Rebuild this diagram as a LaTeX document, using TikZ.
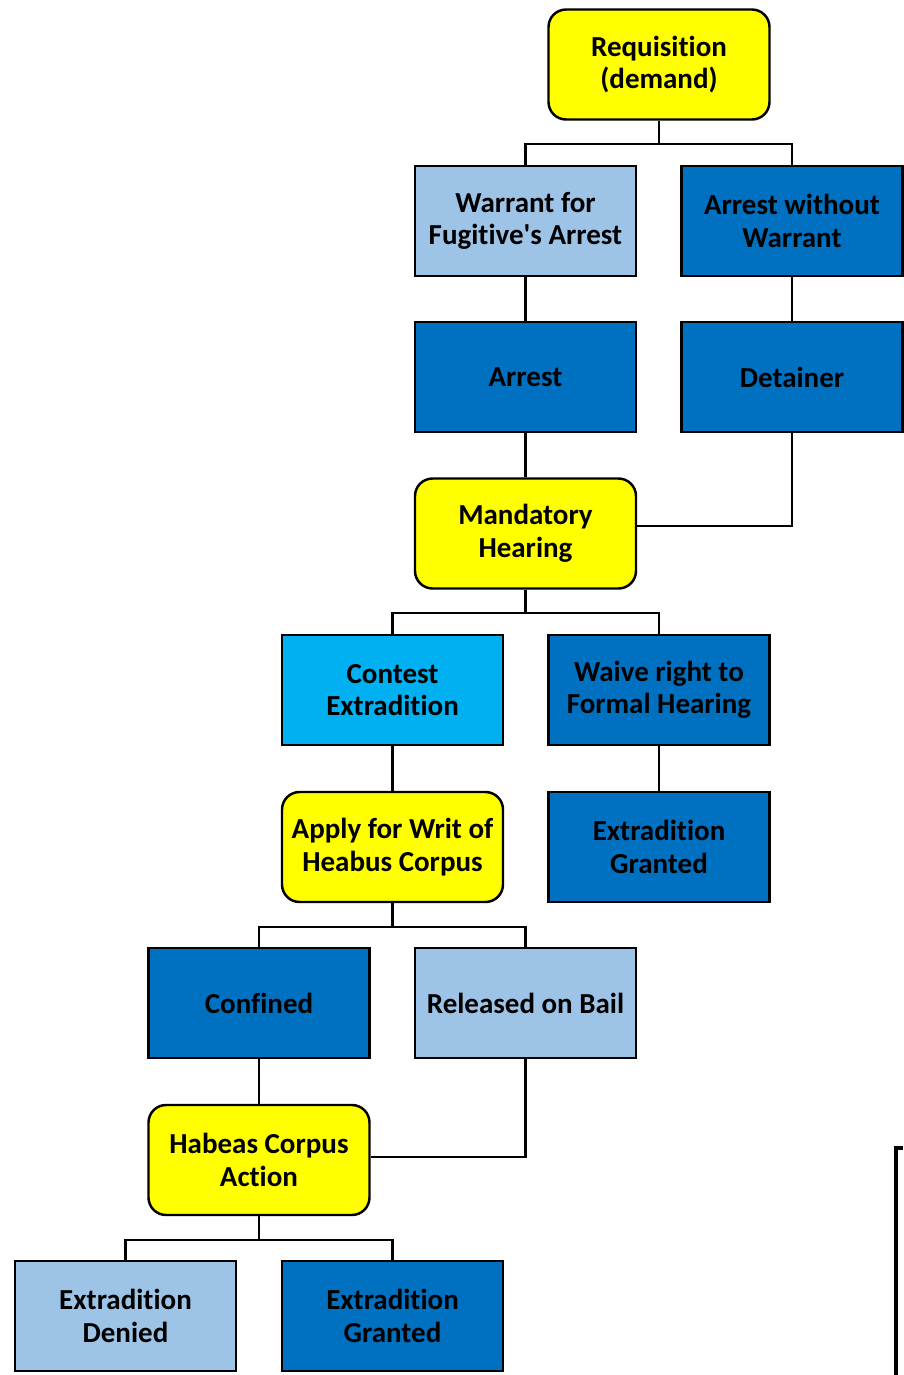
\documentclass[tikz,border=0pt]{standalone}
\usepackage{fontspec}
\setmainfont{Carlito}[Ligatures=NoCommon]
\usetikzlibrary{positioning}
\definecolor{extrYellow}{HTML}{FFFF00}
\definecolor{extrPale}{HTML}{9DC3E6}
\definecolor{extrDeep}{HTML}{0070C0}
\definecolor{extrSky}{HTML}{00B0F0}
\begin{document}
\begin{tikzpicture}[
        x=1cm,
        y=1cm,
        font=\fontsize{16.5}{18.5}\selectfont\bfseries,
        box/.style={rectangle, draw=black, line width=1.4pt, align=center,
                    text=black, minimum width=4.42cm, minimum height=2.2cm,
                    inner sep=2pt},
        paleBox/.style={box, fill=extrPale},
        deepBox/.style={box, fill=extrDeep},
        skyBox/.style={box, fill=extrSky},
        stepBox/.style={box, fill=extrYellow, rounded corners=10pt},
        link/.style={draw=black, line width=1.3pt}
    ]
    \useasboundingbox (0,0) rectangle (18.06,-27.5);

    % Top of the process
    \node[stepBox]  (req)       at (13.18, -1.29) {Requisition\\(demand)};
    \node[paleBox]  (warrant)   at (10.51, -4.42) {Warrant for\\Fugitive\textquotesingle s Arrest};
    \node[deepBox]  (nowarrant) at (15.84, -4.42) {Arrest without\\Warrant};
    \node[deepBox]  (arrest)    at (10.51, -7.54) {Arrest};
    \node[deepBox]  (detainer)  at (15.84, -7.54) {Detainer};
    \node[stepBox]  (hearing)   at (10.51, -10.67) {Mandatory\\Hearing};

    % Hearing outcomes
    \node[skyBox]   (contest)   at ( 7.85, -13.80) {Contest\\Extradition};
    \node[deepBox]  (waive)     at (13.18, -13.80) {Waive right to\\Formal Hearing};
    \node[stepBox]  (writ)      at ( 7.85, -16.94) {Apply for Writ of\\Heabus Corpus};
    \node[deepBox]  (grantedA)  at (13.18, -16.94) {Extradition\\Granted};

    % Writ outcomes
    \node[deepBox]  (confined)  at ( 5.18, -20.06) {Confined};
    \node[paleBox]  (bail)      at (10.51, -20.06) {Released on Bail};
    \node[stepBox]  (habeas)    at ( 5.18, -23.20) {Habeas Corpus\\Action};
    \node[paleBox]  (denied)    at ( 2.51, -26.32) {Extradition\\Denied};
    \node[deepBox]  (grantedB)  at ( 7.85, -26.32) {Extradition\\Granted};

    % Branches
    \draw[link] (req.south) -- ++(0,-0.47) -| (warrant.north);
    \draw[link] (req.south) -- ++(0,-0.47) -| (nowarrant.north);
    \draw[link] (warrant) -- (arrest);
    \draw[link] (nowarrant) -- (detainer);
    \draw[link] (arrest) -- (hearing);
    \draw[link] (detainer.south) |- ([yshift=0.15cm]hearing.east);

    \draw[link] (hearing.south) -- ++(0,-0.47) -| (contest.north);
    \draw[link] (hearing.south) -- ++(0,-0.47) -| (waive.north);
    \draw[link] (contest) -- (writ);
    \draw[link] (waive) -- (grantedA);

    \draw[link] (writ.south) -- ++(0,-0.47) -| (confined.north);
    \draw[link] (writ.south) -- ++(0,-0.47) -| (bail.north);
    \draw[link] (confined) -- (habeas);
    \draw[link] (bail.south) |- ([yshift=0.06cm]habeas.east);

    \draw[link] (habeas.south) -- ++(0,-0.47) -| (denied.north);
    \draw[link] (habeas.south) -- ++(0,-0.47) -| (grantedB.north);

    % Cut-off frame at the lower right
    \draw[line width=2.2pt] (18.06,-22.96) -| (17.92,-27.5);
\end{tikzpicture}
\end{document}
